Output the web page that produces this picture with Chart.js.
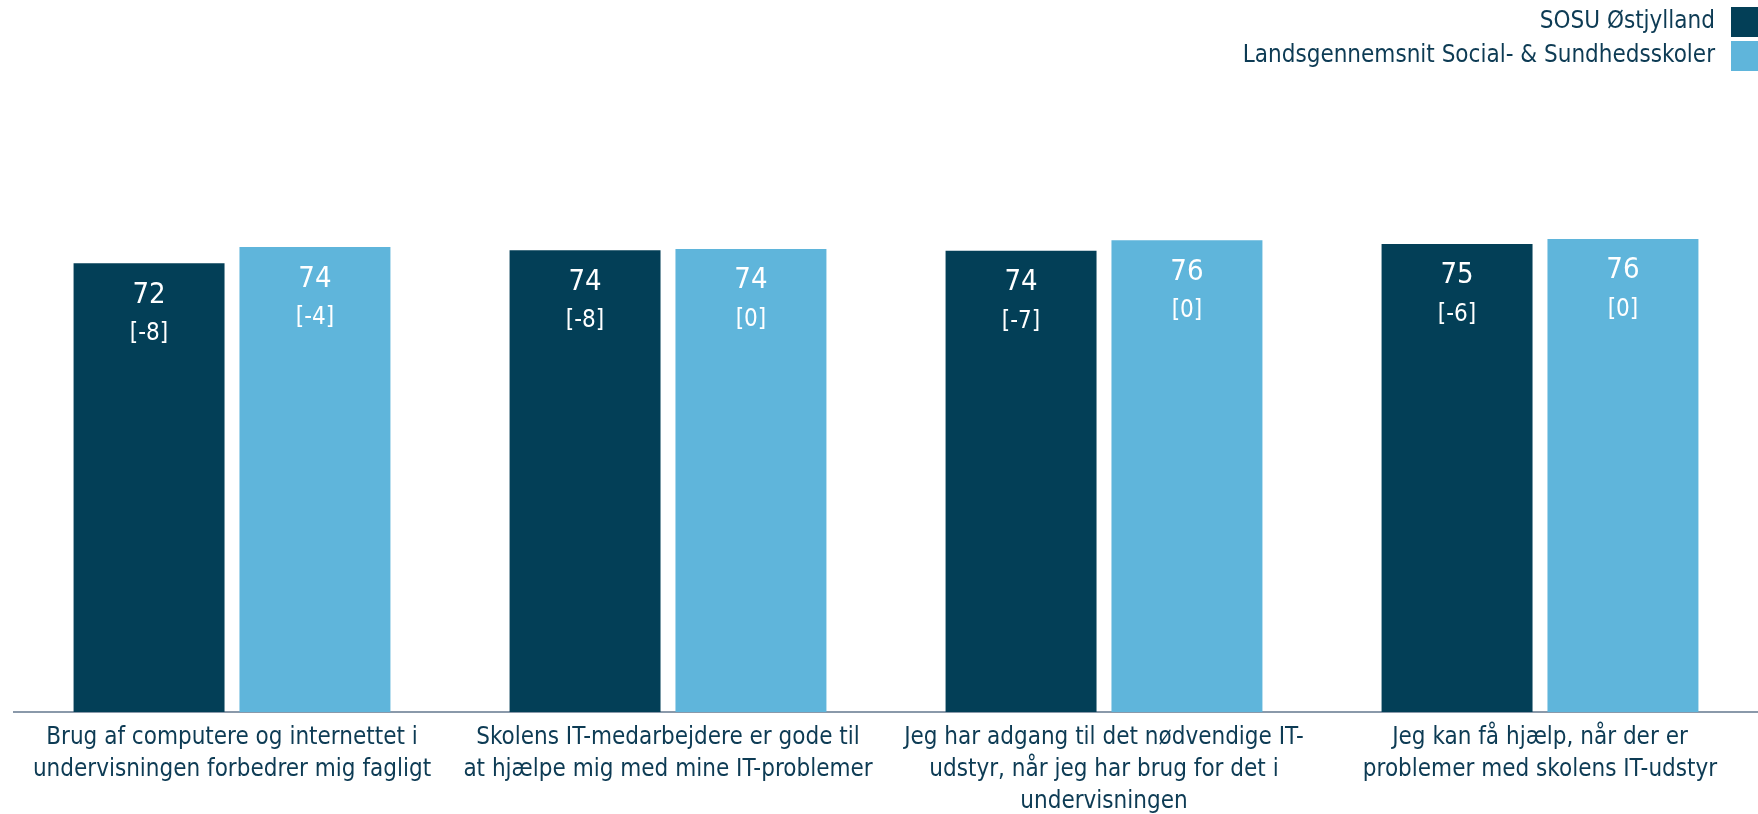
<!DOCTYPE html>
<html>
<head>
<meta charset="utf-8">
<script src="https://cdn.jsdelivr.net/npm/chart.js@4/dist/chart.umd.min.js"></script>
<style>
  html, body { margin: 0; padding: 0; background: #fff; }
  canvas { display: block; }
</style>
</head>
<body>
<canvas id="chart" width="1758" height="814"></canvas>
<script>
// Data
const categories = [
    ['Brug af computere og internettet i', 'undervisningen forbedrer mig fagligt'],
    ['Skolens IT-medarbejdere er gode til', 'at hjælpe mig med mine IT-problemer'],
    ['Jeg har adgang til det nødvendige IT-', 'udstyr, når jeg har brug for det i', 'undervisningen'],
    ['Jeg kan få hjælp, når der er', 'problemer med skolens IT-udstyr']
];
const schoolValues = [71.8, 73.9, 73.8, 74.9];
const nationalValues = [74.4, 74.1, 75.5, 75.7];
const schoolDiffs = [-8, -8, -7, -6];
const nationalDiffs = [-4, 0, 0, 0];

const FONT = '"DejaVu Sans Condensed", "DejaVu Sans", sans-serif';
const TEXT_COLOR = '#0d3b54';

// Tal og [forskel] inde i søjlerne
const barLabels = {
    id: 'barLabels',
    afterDatasetsDraw(chart) {
        const ctx = chart.ctx;
        ctx.save();
        ctx.fillStyle = '#ffffff';
        ctx.textAlign = 'center';
        ctx.textBaseline = 'middle';
        chart.data.datasets.forEach((ds, i) => {
            chart.getDatasetMeta(i).data.forEach((bar, j) => {
                ctx.font = '29px ' + FONT;
                ctx.fillText(Math.round(ds.data[j]), bar.x, bar.y + 32);
                ctx.font = '24px ' + FONT;
                ctx.fillText('[' + ds.diffs[j] + ']', bar.x, bar.y + 71);
            });
        });
        ctx.restore();
    }
};

// Legende øverst til højre, boks til højre for teksten
const rightLegend = {
    id: 'rightLegend',
    afterDraw(chart) {
        const ctx = chart.ctx;
        ctx.save();
        ctx.font = '24px ' + FONT;
        ctx.textAlign = 'right';
        ctx.textBaseline = 'middle';
        chart.data.datasets.forEach((ds, i) => {
            const top = 7 + i * 34;
            ctx.fillStyle = ds.backgroundColor;
            ctx.fillRect(1731, top, 30, 30);
            ctx.fillStyle = TEXT_COLOR;
            ctx.fillText(ds.label, 1715, top + 15);
        });
        ctx.restore();
    }
};

new Chart(document.getElementById('chart'), {
    type: 'bar',
    data: {
        labels: categories,
        datasets: [{
            label: 'SOSU Østjylland',
            data: schoolValues,
            diffs: schoolDiffs,
            backgroundColor: '#033f57'
        }, {
            label: 'Landsgennemsnit Social- & Sundhedsskoler',
            data: nationalValues,
            diffs: nationalDiffs,
            backgroundColor: '#5fb5db'
        }]
    },
    options: {
        responsive: false,
        animation: false,
        layout: { padding: { top: 87, left: 14, right: 0, bottom: 0 } },
        datasets: {
            bar: { categoryPercentage: 0.761, barPercentage: 0.91 }
        },
        plugins: {
            legend: { display: false },
            tooltip: { enabled: false }
        },
        scales: {
            y: { display: false, min: 0, max: 100 },
            x: {
                grid: { display: false },
                border: { display: true, color: '#8a99aa', width: 2 },
                ticks: {
                    color: TEXT_COLOR,
                    font: { family: FONT, size: 24, lineHeight: 1.33 },
                    padding: 2,
                    maxRotation: 0,
                    autoSkip: false
                },
                afterFit(scale) { scale.height = 102; }
            }
        }
    },
    plugins: [barLabels, rightLegend]
});
</script>
</body>
</html>
